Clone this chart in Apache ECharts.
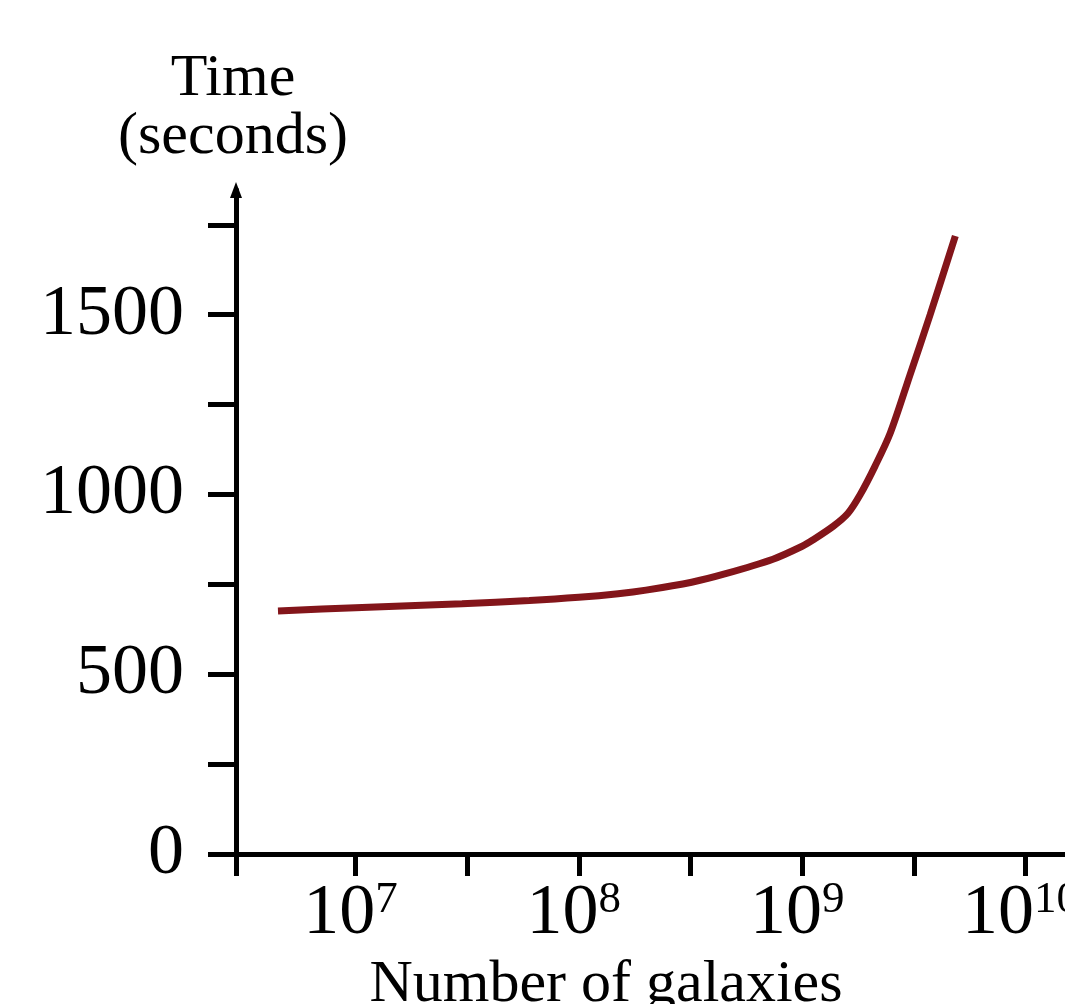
<!DOCTYPE html>
<html>
<head>
<meta charset="utf-8">
<script src="https://cdn.jsdelivr.net/npm/echarts@6/dist/echarts.min.js"></script>
<style>
html,body{margin:0;padding:0;background:#ffffff;}
#chart{width:1065px;height:1004px;}
</style>
</head>
<body>
<div id="chart"></div>
<script>
// ---- data ----
const galaxies = [4.5e6, 1e7, 3e7, 6e7, 1e8, 1.5e8, 2e8, 3.2e8, 4.5e8, 7.4e8, 1e9, 1.12e9, 1.38e9, 1.6e9, 1.82e9, 2.12e9, 2.48e9, 3.04e9, 3.74e9, 4.85e9];
const seconds  = [676, 685, 696, 705, 714, 724, 734, 756, 779, 820, 856, 874, 912, 947, 1000, 1079, 1171, 1333, 1500, 1719];

// ---- axis ticks / labels ----
const yTickValues = [0, 250, 500, 750, 1000, 1250, 1500, 1750];
const yLabelValues = [0, 500, 1000, 1500];
const xLogMin = 6.4653;
const xLogMax = 10.1767;
const xTickExponents = [xLogMin, 7, 7.5, 8, 8.5, 9, 9.5, 10];
const xLabelExponents = [7, 8, 9, 10];
const yMax = 1847;

const FONT = '"Liberation Serif", "Times New Roman", serif';
const chart = echarts.init(document.getElementById('chart'), null, {renderer: 'canvas'});

const option = {
  backgroundColor: '#ffffff',
  animation: false,
  grid: {left: 236, right: 0, top: 190, bottom: 150, containLabel: false, outerBoundsMode: 'none'},
  xAxis: [
    {
      type: 'value',
      min: xLogMin,
      max: xLogMax,
      position: 'bottom',
      axisLine: {show: true, onZero: false, lineStyle: {color: '#000', width: 5}},
      axisTick: {show: true, length: 22, customValues: xTickExponents, lineStyle: {color: '#000', width: 5}},
      axisLabel: {
        customValues: xLabelExponents,
        margin: 24,
        padding: [0, 10, 0, 0],
        formatter: function (v) { return '{b|10}{s|' + Math.round(v) + '}'; },
        rich: {
          b: {fontFamily: FONT, fontSize: 72, lineHeight: 72, color: '#000'},
          s: {fontFamily: FONT, fontSize: 45, lineHeight: 45, verticalAlign: 'top', color: '#000'}
        }
      },
      splitLine: {show: false},
      name: 'Number of galaxies',
      nameLocation: 'middle',
      nameGap: 100,
      nameTextStyle: {fontFamily: FONT, fontSize: 60, lineHeight: 60, color: '#000', padding: [0, 89, 0, 0]}
    },
    {
      type: 'log',
      min: Math.pow(10, xLogMin),
      max: Math.pow(10, xLogMax),
      show: false
    }
  ],
  yAxis: {
    type: 'value',
    min: 0,
    max: yMax,
    axisLine: {show: true, onZero: false, symbol: ['none', 'triangle'], symbolSize: [12, 16], lineStyle: {color: '#000', width: 5}},
    axisTick: {show: true, length: 28, customValues: yTickValues, lineStyle: {color: '#000', width: 5}},
    axisLabel: {
      customValues: yLabelValues, margin: 52, fontFamily: FONT, fontSize: 72, lineHeight: 72, color: '#000',
      formatter: function (v) { return String(Math.round(v)); }
    },
    splitLine: {show: false},
    name: 'Time\n(seconds)',
    nameLocation: 'end',
    nameGap: 24,
    nameTextStyle: {fontFamily: FONT, fontSize: 60, lineHeight: 58, color: '#000', align: 'center', padding: [0, 6, 0, 0]}
  },
  series: [{
    type: 'line',
    xAxisIndex: 1,
    data: galaxies.map(function (n, i) { return [n, seconds[i]]; }),
    smooth: 0.3,
    symbol: 'none',
    lineStyle: {color: '#83151a', width: 7}
  }]
};
chart.setOption(option);
</script>
</body>
</html>
